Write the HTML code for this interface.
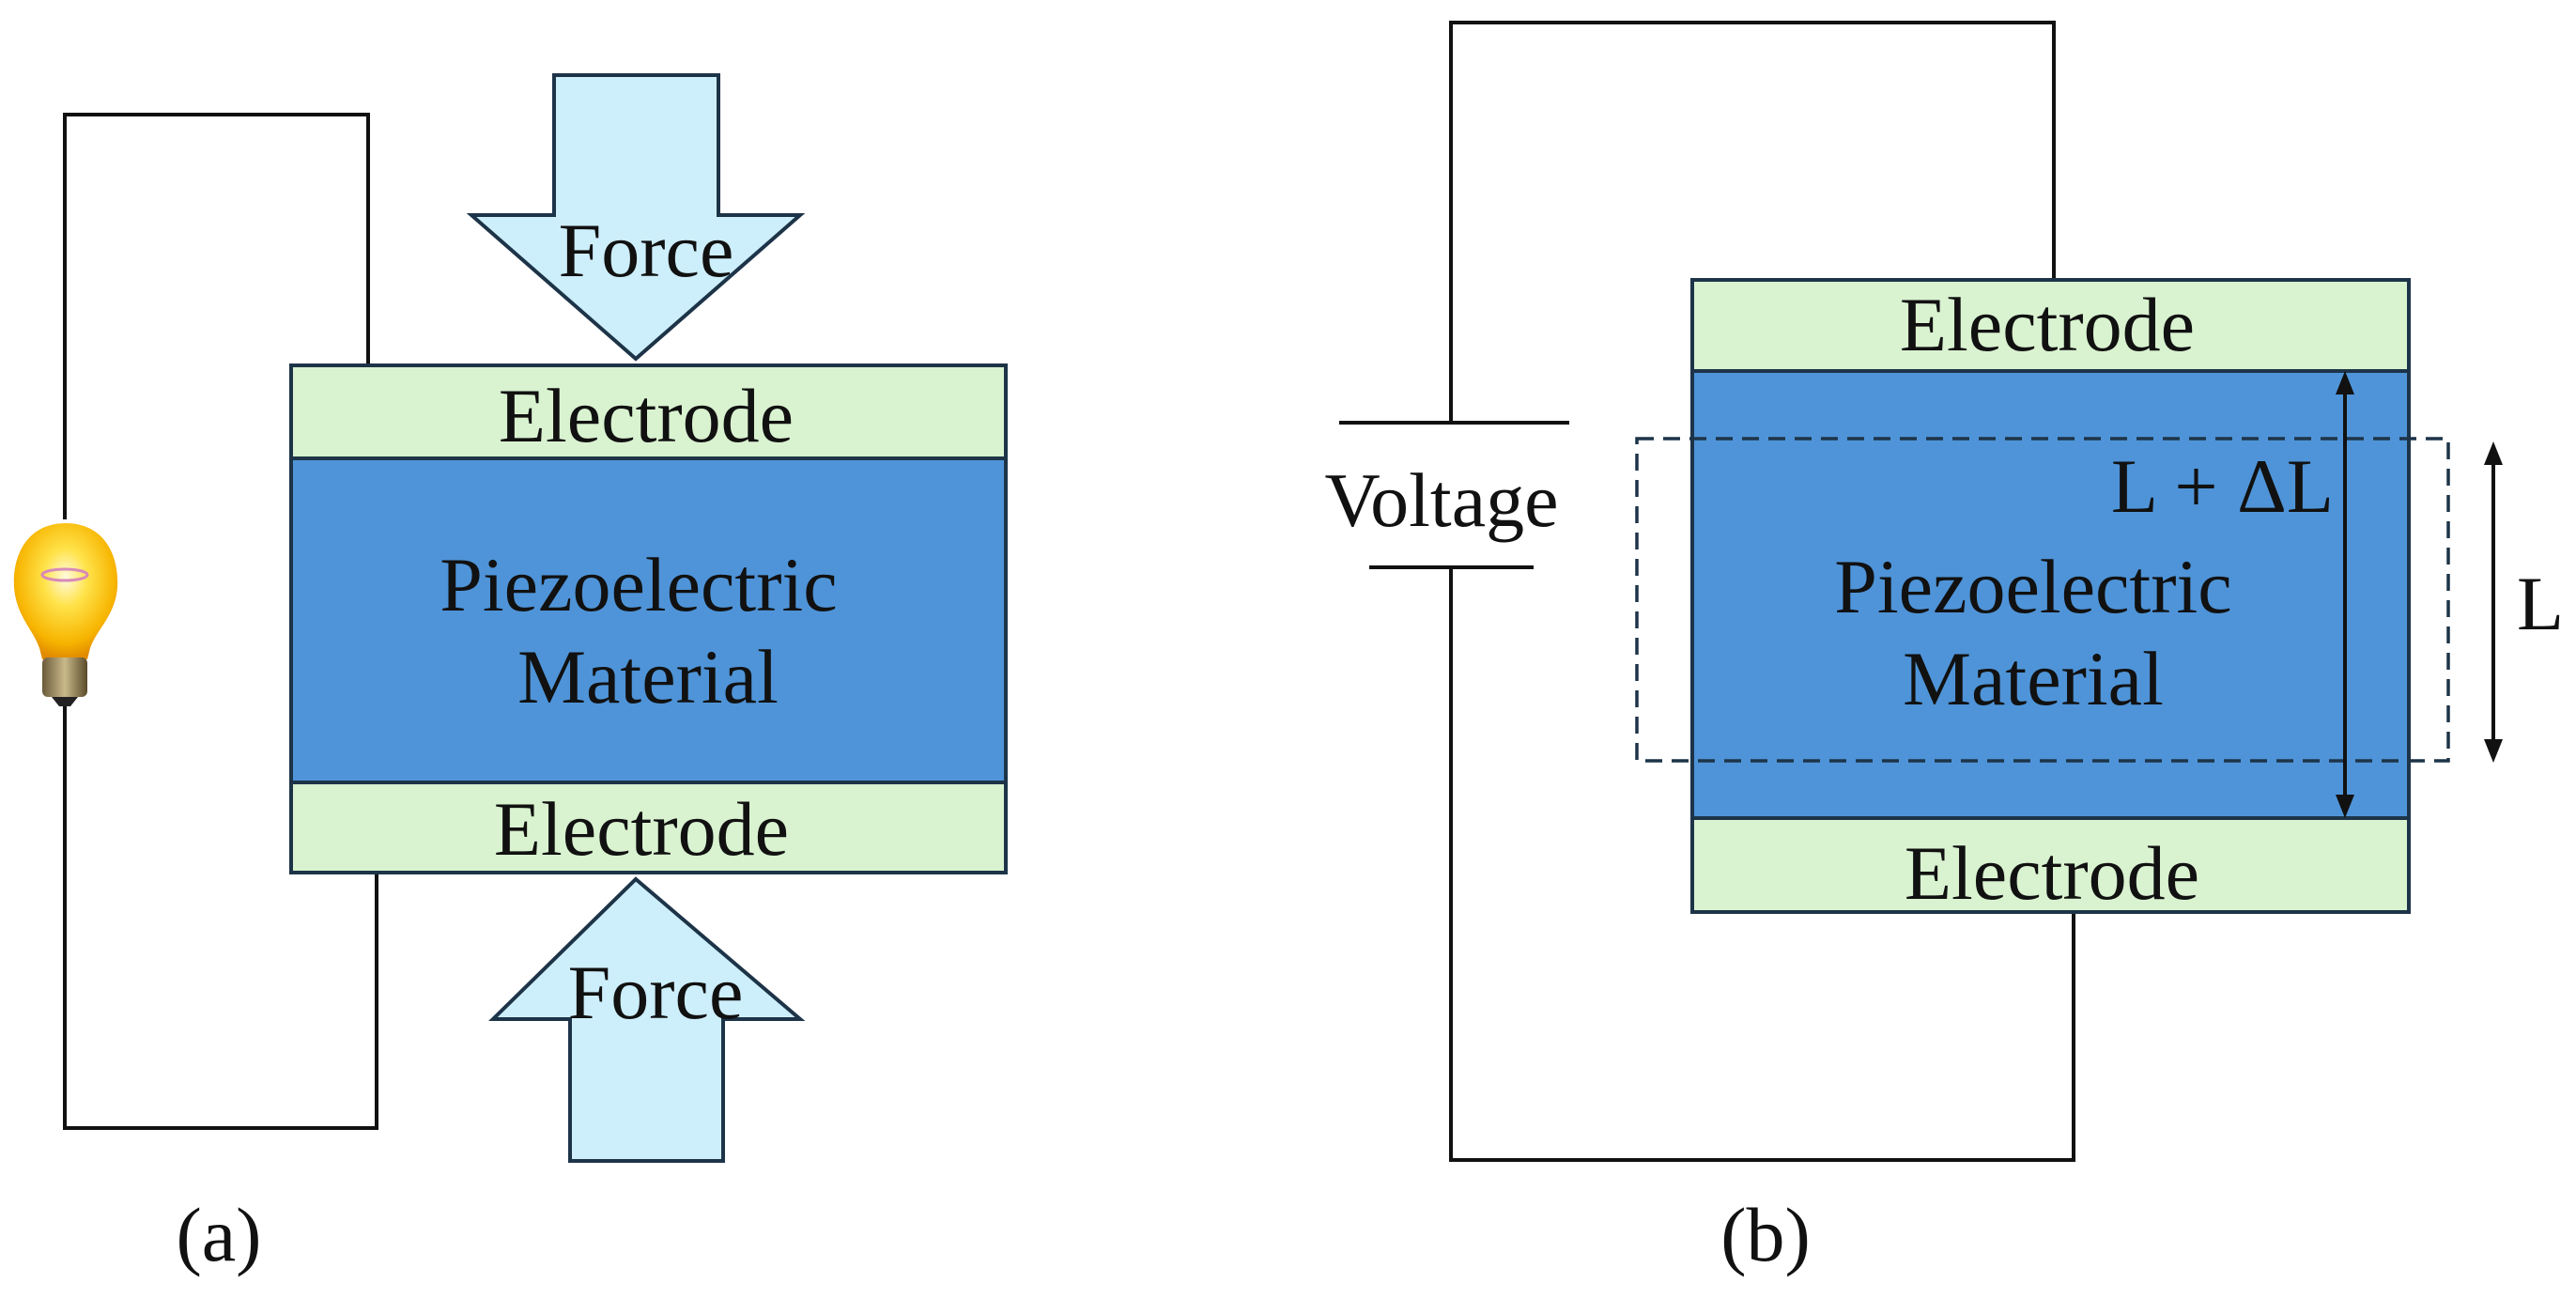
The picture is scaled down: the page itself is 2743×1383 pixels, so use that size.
<!DOCTYPE html>
<html><head><style>
html,body{margin:0;padding:0;background:#fff;}
svg text{font-family:"Liberation Serif",serif;fill:#111;}
</style></head><body>
<svg width="2743" height="1378" viewBox="0 0 2743 1378" xmlns="http://www.w3.org/2000/svg">
<defs>
<radialGradient id="g" cx="0.5" cy="0.4" r="0.6">
<stop offset="0" stop-color="#fffbe0"/><stop offset="0.35" stop-color="#ffe34a"/><stop offset="0.8" stop-color="#f7b400"/><stop offset="1" stop-color="#e08a00"/>
</radialGradient>
<linearGradient id="b" x1="0" x2="1"><stop offset="0" stop-color="#6b5a3a"/><stop offset="0.5" stop-color="#c9b98a"/><stop offset="1" stop-color="#5a4a2a"/></linearGradient>
</defs>
<g stroke="#111" stroke-width="4" fill="none">
<polyline points="69,553 69,122 392,122 392,389"/>
<polyline points="69,752 69,1201 401,1201 401,929"/>
<polyline points="1545,450 1545,24 2187,24 2187,298"/>
<polyline points="1545,604 1545,1235 2208,1235 2208,971"/>
<line x1="1426" y1="450" x2="1671" y2="450"/>
<line x1="1458" y1="604" x2="1633" y2="604"/>
</g>
<path d="M70,557 C30,557 13,590 15,625 C17,655 35,670 42,690 L45,702 L93,702 L96,690 C103,670 123,655 125,625 C127,590 110,557 70,557 Z" fill="url(#g)"/>
<rect x="45" y="700" width="48" height="42" rx="6" fill="url(#b)"/>
<path d="M55,742 L83,742 L75,752 L63,752 Z" fill="#222"/>
<ellipse cx="69" cy="612" rx="24" ry="6" fill="none" stroke="#d88ab8" stroke-width="3"/>
<g stroke="#1d3448" stroke-width="4">
<rect x="310" y="389" width="761" height="99" fill="#d9f2d0"/>
<rect x="310" y="488" width="761" height="345" fill="#4f94d8"/>
<rect x="310" y="833" width="761" height="96" fill="#d9f2d0"/>
<polygon points="590,80 765,80 765,229 852,229 677,382 502,229 590,229" fill="#cdeefb"/>
<polygon points="677,936 852,1085 770,1085 770,1236 607,1236 607,1085 525,1085" fill="#cdeefb"/>
</g>
<g font-size="82" text-anchor="middle">
<text x="688" y="294">Force</text>
<text x="698" y="1084">Force</text>
<text x="688" y="470">Electrode</text>
<text x="683" y="910">Electrode</text>
<text x="680" y="650">Piezoelectric</text>
<text x="690" y="748">Material</text>
<text x="233" y="1342">(a)</text>
</g>
<g stroke="#1d3448" stroke-width="4">
<rect x="1802" y="298" width="763" height="97" fill="#d9f2d0"/>
<rect x="1802" y="395" width="763" height="476" fill="#4f94d8"/>
<rect x="1802" y="871" width="763" height="100" fill="#d9f2d0"/>
</g>
<rect x="1743" y="467" width="864" height="343" fill="none" stroke="#1d3448" stroke-width="3.5" stroke-dasharray="18,10"/>
<g stroke="#111" stroke-width="4" fill="#111">
<line x1="2497" y1="410" x2="2497" y2="856"/>
<polygon points="2497,395 2487,420 2507,420" stroke="none"/>
<polygon points="2497,871 2487,846 2507,846" stroke="none"/>
<line x1="2655" y1="487" x2="2655" y2="795"/>
<polygon points="2655,470 2645,495 2665,495" stroke="none"/>
<polygon points="2655,812 2645,787 2665,787" stroke="none"/>
</g>
<g font-size="82" text-anchor="middle">
<text x="2180" y="373">Electrode</text>
<text x="2185" y="957">Electrode</text>
<text x="2165" y="652">Piezoelectric</text>
<text x="2165" y="750">Material</text>
<text x="2485" y="545" text-anchor="end">L + ΔL</text>
<text x="2705" y="670">L</text>
<text x="1535" y="560">Voltage</text>
<text x="1880" y="1342">(b)</text>
</g>
</svg>
</body></html>
